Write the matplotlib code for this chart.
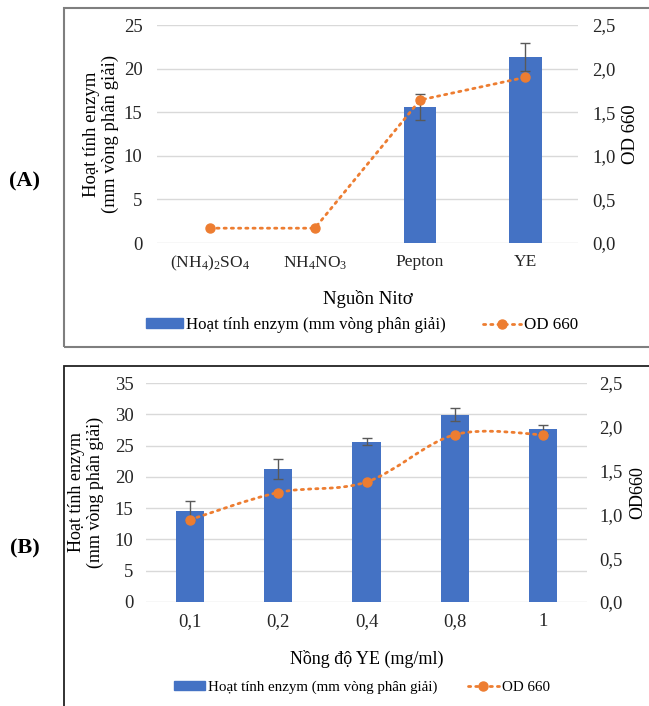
import matplotlib
matplotlib.use("Agg")
import matplotlib.pyplot as plt
from matplotlib.patches import Rectangle, Patch, PathPatch
from matplotlib.lines import Line2D
from matplotlib.path import Path
import numpy as np

plt.rcParams['font.family'] = ['Liberation Serif', 'DejaVu Serif']
plt.rcParams['mathtext.fontset'] = 'custom'
plt.rcParams['mathtext.rm'] = 'Liberation Serif'
plt.rcParams['mathtext.default'] = 'regular'

# Panel A - nguon nito
nito_labels = ["(NH$_4$)$_2$SO$_4$", "NH$_4$NO$_3$", "Pepton", "YE"]
enzym_a = [0, 0, 15.6, 21.3]
enzym_a_err = [0, 0, 1.5, 1.6]
od_a = [0.17, 0.17, 1.64, 1.90]

# Panel B - nong do YE
ye_labels = ["0,1", "0,2", "0,4", "0,8", "1"]
enzym_b = [14.6, 21.3, 25.65, 29.95, 27.65]
enzym_b_err = [1.6, 1.6, 0.55, 1.05, 0.6]
od_b = [0.94, 1.25, 1.37, 1.91, 1.91]

blue = "#4472C4"
orange = "#ED7D31"
grid_c = "#D9D9D9"
err_c = "#595959"
tick_c = "#262626"

W, H = 649, 706
fig = plt.figure(figsize=(W / 100, H / 100), dpi=100)


def fx(px):
    return px / W


def fy(py):
    return 1 - py / H


def smooth_path(xs, ys):
    # duong cong kieu Excel (Catmull-Rom -> Bezier)
    pts = np.column_stack([xs, ys]).astype(float)
    n = len(pts)
    verts = [pts[0]]
    codes = [Path.MOVETO]
    for i in range(n - 1):
        p0 = pts[max(i - 1, 0)]
        p1 = pts[i]
        p2 = pts[i + 1]
        p3 = pts[min(i + 2, n - 1)]
        verts += [p1 + (p2 - p0) / 6, p2 - (p3 - p1) / 6, p2]
        codes += [Path.CURVE4] * 3
    return Path(verts, codes)


def style_axes(ax, ax2, ymax, ystep, y2labels, tick_pad, xsize):
    ax.set_ylim(0, ymax)
    ax.set_yticks(np.arange(0, ymax + 0.01, ystep))
    ax.grid(axis="y", color=grid_c, lw=1)
    ax.set_axisbelow(True)
    for s in ax.spines.values():
        s.set_visible(False)
    for s in ax2.spines.values():
        s.set_visible(False)
    ax.tick_params(length=0, labelsize=13.5, pad=tick_pad, colors=tick_c)
    ax2.set_ylim(0, 2.5)
    ax2.set_yticks(np.arange(0, 2.51, 0.5))
    ax2.set_yticklabels(y2labels)
    ax2.tick_params(length=0, labelsize=13.5, pad=tick_pad, colors=tick_c)
    ax.tick_params(axis="x", pad=8, labelsize=xsize)


od_ticks = ["0,0", "0,5", "1,0", "1,5", "2,0", "2,5"]
ylab = "Hoạt tính enzym\n(mm vòng phân giải)"

# ---------- khung ----------
fig.patches.append(Rectangle((fx(64), fy(347)), 1.2, fy(8) - fy(347), transform=fig.transFigure,
                             fill=False, ec="#7F7F7F", lw=1.5))
fig.patches.append(Rectangle((fx(64), fy(720)), 1.2, fy(366) - fy(720), transform=fig.transFigure,
                             fill=False, ec="#222222", lw=1.3))

# ---------- (A) ----------
axA = fig.add_axes([fx(157), fy(243), fx(578) - fx(157), fy(25) - fy(243)])
axA2 = axA.twinx()
xa = np.arange(len(nito_labels))
bar_a = [v if v > 0 else np.nan for v in enzym_a]
axA.bar(xa, bar_a, width=0.31, color=blue)
for i in range(len(xa)):
    if enzym_a[i] > 0:
        axA.errorbar(xa[i], enzym_a[i], yerr=enzym_a_err[i], color=err_c, lw=1, capsize=3.5, capthick=1)
axA2.plot(xa, od_a, color=orange, lw=2, ls=(0, (0.8, 1.8)), dash_capstyle="round",
          marker="o", ms=6.5, mec=orange, mfc=orange)
axA.set_xlim(-0.5, 3.5)
axA.set_xticks(xa)
axA.set_xticklabels(nito_labels)
style_axes(axA, axA2, 25, 5, od_ticks, 10.5, 12.5)
axA.set_ylabel(ylab, fontsize=13.5, linespacing=1.15)
axA.yaxis.set_label_coords(-0.09, 0.5)
axA2.set_ylabel("OD 660", fontsize=13.5)
axA2.yaxis.set_label_coords(1.105, 0.5)
axA.set_xlabel("Nguồn Nitơ", fontsize=13.5)
axA.xaxis.set_label_coords(0.5, -0.216)

# ---------- (B) ----------
axB = fig.add_axes([fx(146), fy(602), fx(587) - fx(146), fy(383) - fy(602)])
axB2 = axB.twinx()
xb = np.arange(len(ye_labels))
axB.bar(xb, enzym_b, width=0.32, color=blue)
axB.errorbar(xb, enzym_b, yerr=enzym_b_err, fmt="none", ecolor=err_c, elinewidth=1, capsize=3.5, capthick=1)
axB2.add_patch(PathPatch(smooth_path(xb, od_b), fill=False, ec=orange, lw=2,
                         ls=(0, (0.8, 1.8)), capstyle="round"))
axB2.plot(xb, od_b, ls="none", marker="o", ms=6.5, mec=orange, mfc=orange)
axB.set_xlim(-0.5, 4.5)
axB.set_xticks(xb)
axB.set_xticklabels(ye_labels)
style_axes(axB, axB2, 35, 5, od_ticks, 9, 13.5)
axB.set_ylabel(ylab, fontsize=13, linespacing=1.15)
axB.yaxis.set_label_coords(-0.095, 0.5)
axB2.set_ylabel("OD660", fontsize=13)
axB2.yaxis.set_label_coords(1.095, 0.5)
axB.set_xlabel("Nồng độ YE (mg/ml)", fontsize=13)
axB.xaxis.set_label_coords(0.5, -0.219)

# ---------- legend ----------
handles = [Patch(color=blue), Line2D([], [], color=orange, lw=2, ls=(0, (0.8, 1.8)),
                                     dash_capstyle="round", marker="o", ms=6.5)]
names = ["Hoạt tính enzym (mm vòng phân giải)", "OD 660"]
fig.legend(handles, names, loc="center", bbox_to_anchor=(fx(362), fy(325)), ncol=2, frameon=False,
           fontsize=12.2, handlelength=2.2, handleheight=0.5, columnspacing=2.2, handletextpad=0.2)
fig.legend(handles, names, loc="center", bbox_to_anchor=(fx(362), fy(687)), ncol=2, frameon=False,
           fontsize=10.8, handlelength=2.1, handleheight=0.5, columnspacing=2.0, handletextpad=0.2)

fig.text(fx(25), fy(181), "(A)", fontsize=16, fontweight="bold", ha="center", va="center")
fig.text(fx(25), fy(548), "(B)", fontsize=16, fontweight="bold", ha="center", va="center")

fig.savefig("out.png", dpi=100)
